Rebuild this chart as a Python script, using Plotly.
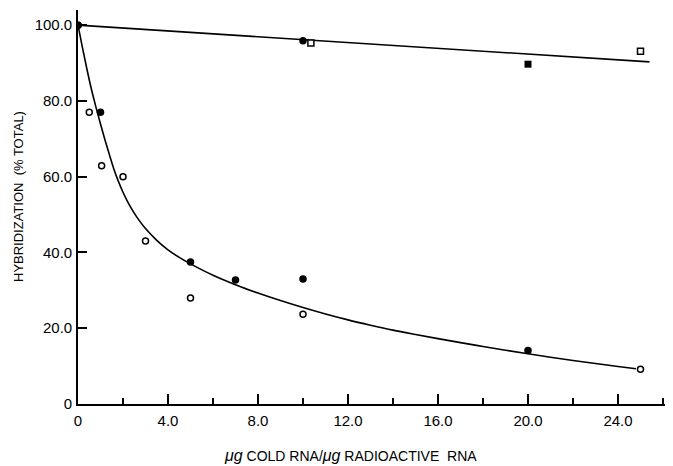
import plotly.graph_objects as go

# ---- data ----
lower_filled_x = [0, 1, 5, 7, 10, 20]
lower_filled_y = [100, 77, 37.5, 32.7, 33, 14.1]

lower_open_x = [0.5, 1.05, 2, 3, 5, 10, 25]
lower_open_y = [77, 62.9, 60, 43, 28, 23.7, 9.2]

upper_filled_circle_x = [0, 10]
upper_filled_circle_y = [100, 95.9]

upper_open_square_x = [10.35, 25]
upper_open_square_y = [95.3, 93.1]

upper_filled_square_x = [20]
upper_filled_square_y = [89.7]

# fitted curves
lower_curve_x = [0, 0.2, 0.4, 0.6, 0.8, 1.0, 1.2, 1.4, 1.6, 1.8, 2.0, 2.25, 2.5, 2.75, 3.0, 3.5,
                 4, 4.5, 5, 6, 7, 8, 9, 10, 11, 12, 13, 14, 15, 16, 17, 18, 19, 20, 21, 22, 23, 24, 24.8]
lower_curve_y = [100, 94, 88.3, 83, 78.3, 73.9, 69.7, 65.7, 61.9, 58.7, 55.9, 52.9, 50.4, 48.2, 46.3, 43.2,
                 40.7, 38.7, 37, 34, 31.5, 29.3, 27.3, 25.45, 23.75, 22.2, 20.8, 19.5, 18.35, 17.25,
                 16.2, 15.2, 14.2, 13.25, 12.35, 11.5, 10.7, 9.92, 9.3]

upper_line_x = [0, 25.4]
upper_line_y = [100, 90.3]

x_tickvals = [0, 4, 8, 12, 16, 20, 24]
x_ticktext = ["0", "4.0", "8.0", "12.0", "16.0", "20.0", "24.0"]
x_minor_tickvals = [2, 6, 10, 14, 18, 22, 26]
y_tickvals = [0, 20, 40, 60, 80, 100]
y_ticktext = ["0", "20.0", "40.0", "60.0", "80.0", "100.0"]

FONT = "Liberation Sans"
W, H = 665, 458          # page body has an 8px margin
ML, MR, MT, MB = 70, 1, 2, 62
PW, PH = W - ML - MR, H - MT - MB

fig = go.Figure()

fig.add_trace(go.Scatter(x=lower_curve_x, y=lower_curve_y, mode="lines",
                         line=dict(color="black", width=1.6, shape="spline", smoothing=1.0),
                         hoverinfo="skip"))
fig.add_trace(go.Scatter(x=upper_line_x, y=upper_line_y, mode="lines",
                         line=dict(color="black", width=1.6), hoverinfo="skip"))

fig.add_trace(go.Scatter(x=lower_open_x, y=lower_open_y, mode="markers",
                         marker=dict(symbol="circle", size=6, color="white",
                                     line=dict(color="black", width=1.5))))
fig.add_trace(go.Scatter(x=lower_filled_x, y=lower_filled_y, mode="markers",
                         marker=dict(symbol="circle", size=7.5, color="black")))
fig.add_trace(go.Scatter(x=upper_filled_circle_x, y=upper_filled_circle_y, mode="markers",
                         marker=dict(symbol="circle", size=7.5, color="black")))
fig.add_trace(go.Scatter(x=upper_open_square_x, y=upper_open_square_y, mode="markers",
                         marker=dict(symbol="square", size=6, color="white",
                                     line=dict(color="black", width=1.5))))
fig.add_trace(go.Scatter(x=upper_filled_square_x, y=upper_filled_square_y, mode="markers",
                         marker=dict(symbol="square", size=7, color="black")))

fig.update_layout(
    width=W, height=H,
    margin=dict(l=ML, r=MR, t=MT, b=MB),
    paper_bgcolor="white", plot_bgcolor="white",
    showlegend=False,
    font=dict(family=FONT, color="black", size=15),
    xaxis=dict(range=[0, 26.4], tickmode="array", tickvals=x_tickvals, ticktext=x_ticktext,
               ticks="inside", ticklen=10, tickwidth=1.5, tickcolor="black",
               minor=dict(tickmode="array", tickvals=x_minor_tickvals,
                          ticks="inside", ticklen=6, tickwidth=1.5, tickcolor="black"),
               showline=True, linecolor="black", linewidth=1.6,
               showgrid=False, zeroline=False, tickfont=dict(size=15, family=FONT),
               ticklabelstandoff=2),
    yaxis=dict(range=[0, 104], tickmode="array", tickvals=y_tickvals, ticktext=y_ticktext,
               ticks="inside", ticklen=9, tickwidth=1.5, tickcolor="black",
               showline=True, linecolor="black", linewidth=1.6,
               showgrid=False, zeroline=False, tickfont=dict(size=15, family=FONT),
               ticklabelstandoff=1),
    annotations=[
        dict(text="HYBRIDIZATION  (% TOTAL)", xref="paper", yref="paper",
             x=(10 - ML) / PW, y=(MT + PH - 189) / PH, textangle=-90,
             showarrow=False, font=dict(size=13, family=FONT), xanchor="center", yanchor="middle"),
        dict(text="<i><span style='font-size:16px'>μg</span></i> COLD RNA/<i><span style='font-size:16px'>μg</span></i> RADIOACTIVE  RNA",
             xref="paper", yref="paper",
             x=(342 - ML) / PW, y=-(447 - (MT + PH)) / PH,
             showarrow=False, font=dict(size=14, family=FONT), xanchor="center", yanchor="middle"),
    ],
)

fig.write_html("out.html")
